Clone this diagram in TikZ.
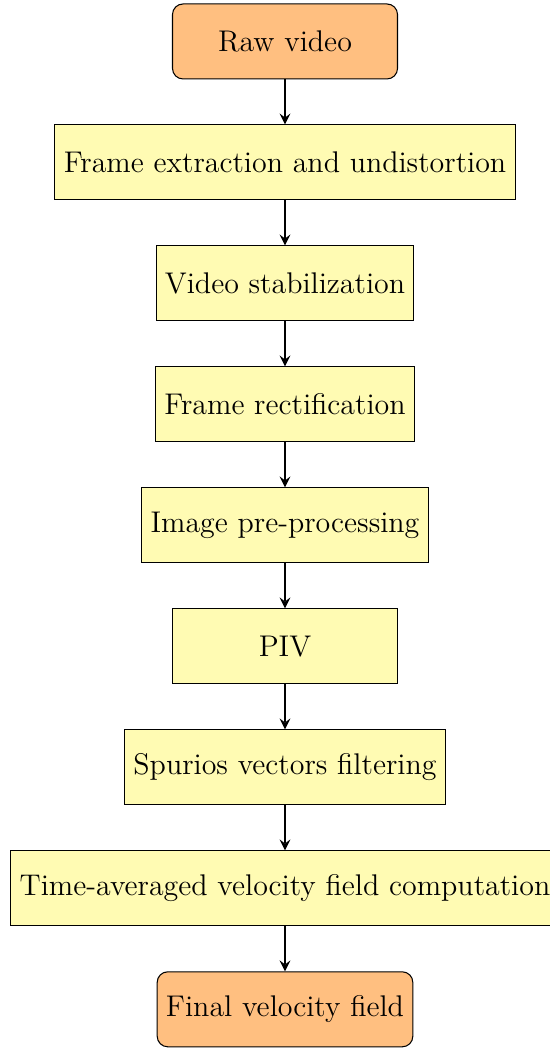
\documentclass[tikz,border=0pt]{standalone}
\usepackage{tikz}
\usetikzlibrary{arrows,shapes}
\usetikzlibrary{positioning}
\tikzstyle{flow}=[every edge/.style={draw,->,>=stealth,thick}]
\tikzstyle{Aend}=[rectangle,rounded corners,draw=black,fill=orange!50,
                minimum width=3cm,minimum height=1cm,text centered,
                font=\fontsize{11.35}{14}\selectfont]
\tikzstyle{Astep}=[rectangle,draw=black,fill=yellow!30,
                minimum width=3cm,minimum height=1cm,text centered,
                font=\fontsize{11.35}{14}\selectfont]

\begin{document}
\begin{tikzpicture}[flow,node distance=1.613cm]
\path[use as bounding box] (-3.8,0.553) rectangle (3.52,-13.42);

\node[Aend] (raw) {Raw video};
\node[Astep,below of=raw] (extract) {Frame extraction and undistortion};
\node[Astep,below of=extract] (stab) {Video stabilization};
\node[Astep,below of=stab] (rectif) {Frame rectification};
\node[Astep,below of=rectif] (preproc) {Image pre-processing};
\node[Astep,below of=preproc] (piv) {PIV};
\node[Astep,below of=piv] (filter) {Spurios vectors filtering};
\node[Astep,below of=filter] (avg) {Time-averaged velocity field computation};
\node[Aend,below of=avg] (final) {Final velocity field};

\path
(raw) edge (extract) (extract) edge (stab)
(stab) edge (rectif) (rectif) edge (preproc)
(preproc) edge (piv) (piv) edge (filter)
(filter) edge (avg) (avg) edge (final)
;
\end{tikzpicture}
\end{document}
